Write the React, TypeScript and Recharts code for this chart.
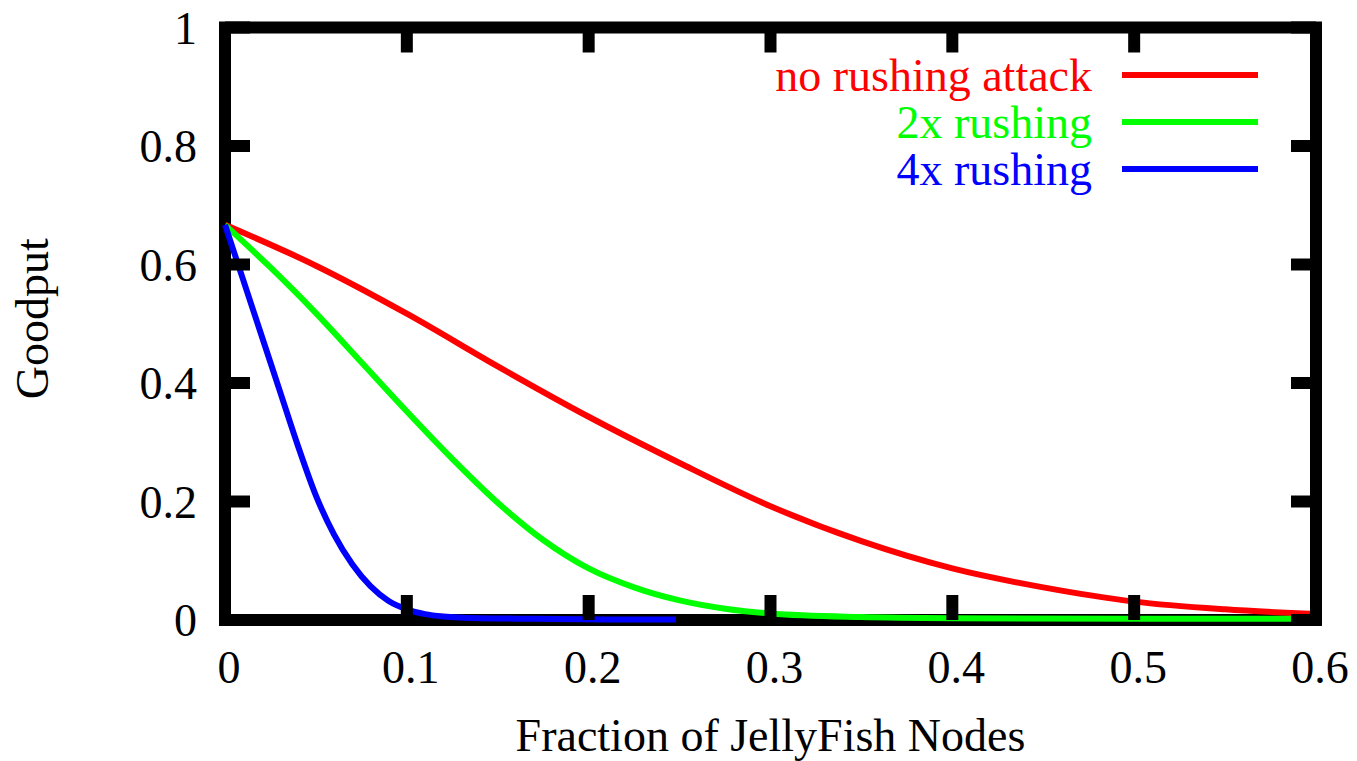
import { LineChart, Line, XAxis, YAxis, ReferenceArea, Legend, Label } from "recharts";

// fraction of JellyFish nodes (x) and goodput (y)
const noRushX = [0, 0.05, 0.1, 0.15, 0.2, 0.25, 0.3, 0.35, 0.4, 0.45, 0.5, 0.55, 0.6];
const noRushY = [0.667, 0.598, 0.517, 0.428, 0.343, 0.265, 0.192, 0.133, 0.087, 0.055, 0.031, 0.018, 0.01];

const rush2X = [0, 0.025, 0.05, 0.075, 0.1, 0.125, 0.15, 0.175, 0.2, 0.225, 0.25, 0.275, 0.3, 0.35, 0.4, 0.5, 0.6];
const rush2Y = [0.667, 0.595, 0.518, 0.435, 0.352, 0.272, 0.198, 0.135, 0.087, 0.055, 0.033, 0.019, 0.011, 0.005, 0.003, 0.002, 0.002];

const rush4X = [0, 0.01, 0.02, 0.03, 0.04, 0.05, 0.06, 0.07, 0.08, 0.09, 0.1, 0.11, 0.12, 0.14, 0.17, 0.21, 0.248];
const rush4Y = [0.667, 0.574, 0.481, 0.388, 0.295, 0.21, 0.144, 0.094, 0.057, 0.032, 0.018, 0.01, 0.006, 0.003, 0.002, 0.001, 0.001];

const xTicks = [0, 0.1, 0.2, 0.3, 0.4, 0.5, 0.6];
const yTicks = [0, 0.2, 0.4, 0.6, 0.8, 1];

const toPoints = (xs: number[], ys: number[]) => xs.map((x, i) => ({ x, y: ys[i] }));

const series = [
  { name: "no rushing attack", color: "#ff0000", data: toPoints(noRushX, noRushY) },
  { name: "2x rushing", color: "#00ff00", data: toPoints(rush2X, rush2Y) },
  { name: "4x rushing", color: "#0000ff", data: toPoints(rush4X, rush4Y) },
];
const seriesOrder = series.map((s) => s.name);

const FONT = "'Liberation Serif', 'Times New Roman', serif";
const tickFont = { fill: "#000", fontSize: 46, fontFamily: FONT };
const tickLine = { stroke: "#000", strokeWidth: 12 };
const noLabel = () => "";

function LegendBox({ payload }: any) {
  const items = [...(payload || [])]
    .filter((p: any) => seriesOrder.includes(p.value))
    .sort((a: any, b: any) => seriesOrder.indexOf(a.value) - seriesOrder.indexOf(b.value));
  return (
    <div style={{ display: "flex", flexDirection: "column", alignItems: "flex-end", fontFamily: FONT }}>
      {items.map((p: any) => (
        <div key={p.value} style={{ display: "flex", alignItems: "center", height: 47 }}>
          <span style={{ color: p.color, fontSize: 46, lineHeight: "47px", whiteSpace: "nowrap" }}>{p.value}</span>
          <div style={{ width: 136, height: 6, background: p.color, marginLeft: 30 }} />
        </div>
      ))}
    </div>
  );
}

export default function App() {
  return (
    <div style={{ position: "absolute", left: 0, top: 0, background: "#fff" }}>
      <LineChart width={1357} height={761} margin={{ top: 0, right: 0, bottom: 0, left: 0 }}>
        <XAxis
          dataKey="x"
          type="number"
          domain={[0, 0.6]}
          ticks={xTicks}
          interval={0}
          height={141}
          axisLine={false}
          tickLine={tickLine}
          tickSize={-25}
          tickMargin={55}
          tick={{ ...tickFont, dx: 4 }}
          allowDuplicatedCategory={false}
        >
          <Label
            value="Fraction of JellyFish Nodes"
            position="insideBottom"
            offset={10}
            style={{ fill: "#000", fontSize: 46, fontFamily: FONT }}
          />
        </XAxis>
        <XAxis
          xAxisId="top"
          orientation="top"
          dataKey="x"
          type="number"
          domain={[0, 0.6]}
          allowDataOverflow
          ticks={xTicks}
          interval={0}
          height={27.5}
          axisLine={false}
          tickLine={tickLine}
          tickSize={-25}
          tickFormatter={noLabel}
        />
        <YAxis
          type="number"
          domain={[0, 1]}
          ticks={yTicks}
          interval={0}
          width={225}
          axisLine={false}
          tickLine={tickLine}
          tickSize={-25}
          tickMargin={53}
          tick={tickFont}
        >
          <Label
            value="Goodput"
            angle={-90}
            position="center"
            dx={-81}
            dy={-5}
            style={{ fill: "#000", fontSize: 46, fontFamily: FONT }}
          />
        </YAxis>
        <YAxis
          yAxisId="right"
          orientation="right"
          type="number"
          domain={[0, 1]}
          allowDataOverflow
          ticks={yTicks}
          interval={0}
          width={41}
          axisLine={false}
          tickLine={tickLine}
          tickSize={-25}
          tickFormatter={noLabel}
        />
        <ReferenceArea x1={0} x2={0.6} y1={0} y2={1} fill="none" stroke="#000" strokeWidth={12} fillOpacity={0} />
        {/* invisible series so the mirrored top/right axes get a domain */}
        <Line
          data={series[0].data}
          dataKey="y"
          xAxisId="top"
          yAxisId="right"
          stroke="none"
          dot={false}
          activeDot={false}
          legendType="none"
          isAnimationActive={false}
        />
        {series.map((s) => (
          <Line
            key={s.name}
            data={s.data}
            dataKey="y"
            name={s.name}
            type="monotone"
            stroke={s.color}
            strokeWidth={6}
            dot={false}
            activeDot={false}
            isAnimationActive={false}
          />
        ))}
        <Legend
          layout="vertical"
          align="center"
          verticalAlign="middle"
          content={<LegendBox />}
          wrapperStyle={{ position: "absolute", top: 51.5, left: 0, width: 1258, height: "auto" }}
        />
      </LineChart>
    </div>
  );
}
